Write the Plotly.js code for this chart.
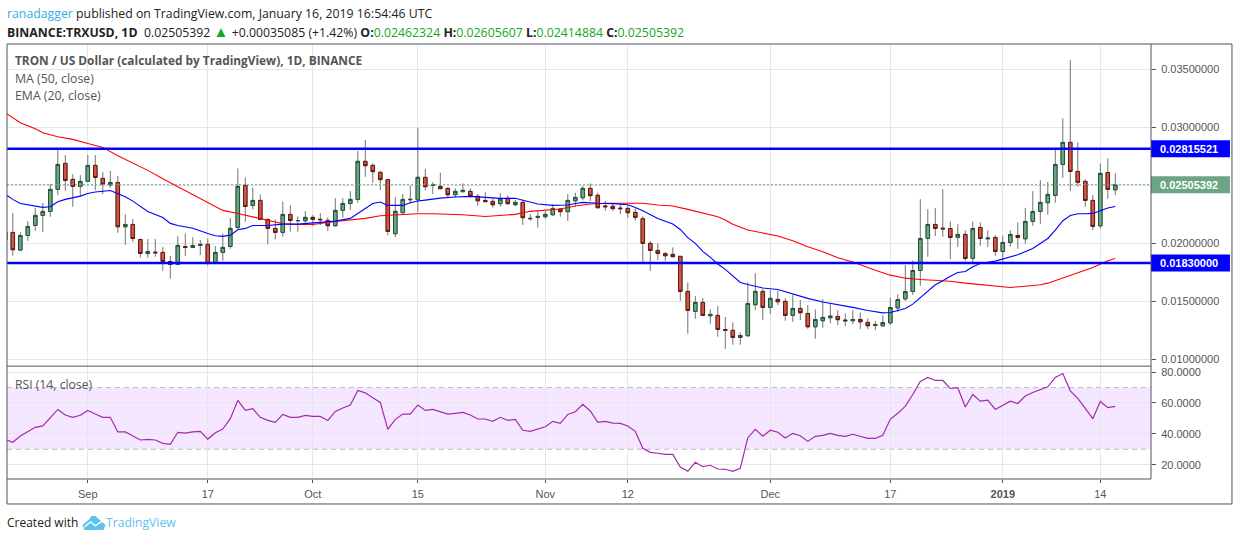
<!DOCTYPE html>
<html>
<head>
<meta charset="utf-8">
<script src="https://cdn.plot.ly/plotly-3.0.1.min.js"></script>
<style>
html, body { margin: 0; padding: 0; background: #fff; }
#chart { width: 1234px; height: 541px; }
</style>
</head>
<body>
<div id="chart"></div>
<script>
// daily TRX/USD candles, Aug 21 2018 to Jan 16 2019
const firstDay = '2018-08-21';

const opens = [
0.02031,0.02094,0.01942,0.02068,0.02154,0.02241,0.02275,0.02465,0.02689,0.02551,0.02491,
0.02534,0.02672,0.02560,0.02505,0.02525,0.02143,0.02163,0.02034,0.01913,0.01924,0.01922,0.01844,0.01818,0.01973,0.01965,0.01982,0.01991,0.01827,0.01922,0.01973,0.02137,0.02499,0.02327,0.02370,0.02206,0.02129,0.02094,0.02249,0.02195,0.02195,
0.02224,0.02207,0.02198,0.02152,0.02284,0.02344,0.02379,0.02707,0.02672,0.02612,0.02549,0.02083,0.02264,0.02376,0.02376,0.02569,0.02500,0.02491,0.02474,0.02419,0.02445,0.02448,0.02405,0.02370,0.02362,0.02342,0.02388,0.02333,0.02353,0.02212,0.02224,
0.02230,0.02247,0.02296,0.02273,0.02367,0.02393,0.02474,0.02414,0.02322,0.02319,0.02304,0.02301,0.02267,0.02212,0.02000,0.01939,0.01911,0.01905,0.01888,0.01586,0.01413,0.01491,0.01376,0.01379,0.01258,0.01250,0.01189,0.01204,0.01471,0.01586,
0.01448,0.01517,0.01500,0.01379,0.01439,0.01396,0.01281,0.01333,0.01359,0.01370,0.01339,0.01333,0.01344,0.01319,0.01292,0.01289,0.01315,0.01444,0.01522,0.01585,0.01766,0.02042,0.02163,0.02131,0.02128,0.02051,0.02077,0.01870,0.02137,0.02039,0.02051,
0.01930,0.02008,0.02068,0.02039,0.02189,0.02275,0.02350,0.02413,0.02680,0.02870,0.02620,0.02534,0.02370,0.02151,0.02611,0.02462];

const highs = [
0.02129,0.02261,0.02097,0.02192,0.02307,0.02347,0.02511,0.02824,0.02761,0.02597,0.02588,
0.02761,0.02761,0.02614,0.02626,0.02580,0.02252,0.02209,0.02034,0.02037,0.02037,0.01968,0.01890,0.02062,0.02085,0.02054,0.02028,0.02042,0.01976,0.02085,0.02218,0.02646,0.02568,0.02482,0.02422,0.02215,0.02206,0.02361,0.02327,0.02232,0.02278,
0.02244,0.02261,0.02224,0.02388,0.02390,0.02451,0.02796,0.02891,0.02689,0.02623,0.02557,0.02399,0.02425,0.02497,0.02994,0.02641,0.02528,0.02609,0.02480,0.02474,0.02517,0.02474,0.02425,0.02442,0.02385,0.02431,0.02413,0.02373,0.02373,0.02253,0.02281,
0.02281,0.02336,0.02301,0.02425,0.02436,0.02494,0.02517,0.02437,0.02365,0.02345,0.02339,0.02327,0.02301,0.02235,0.02020,0.02000,0.01925,0.01965,0.01891,0.01663,0.01546,0.01528,0.01431,0.01459,0.01365,0.01319,0.01232,0.01663,0.01741,0.01606,
0.01597,0.01592,0.01528,0.01554,0.01511,0.01468,0.01431,0.01520,0.01477,0.01425,0.01396,0.01425,0.01405,0.01353,0.01332,0.01381,0.01531,0.01562,0.01812,0.01853,0.02381,0.02295,0.02304,0.02468,0.02189,0.02166,0.02111,0.02189,0.02180,0.02111,0.02071,
0.02068,0.02114,0.02180,0.02304,0.02450,0.02545,0.02528,0.02824,0.03077,0.03580,0.02870,0.02551,0.02416,0.02689,0.02732,0.02605];

const lows = [
0.01999,0.01893,0.01936,0.02022,0.02108,0.02100,0.02229,0.02416,0.02453,0.02315,0.02407,
0.02528,0.02459,0.02425,0.02479,0.02091,0.01988,0.02014,0.01876,0.01876,0.01884,0.01764,0.01695,0.01815,0.01890,0.01965,0.01899,0.01809,0.01821,0.01850,0.01953,0.02120,0.02186,0.02292,0.02200,0.01991,0.02034,0.02057,0.02100,0.02100,0.02155,
0.02149,0.02158,0.02106,0.02143,0.02221,0.02287,0.02350,0.02574,0.02520,0.02459,0.02071,0.02054,0.02258,0.02344,0.02270,0.02454,0.02425,0.02471,0.02396,0.02396,0.02445,0.02393,0.02322,0.02359,0.02307,0.02316,0.02333,0.02322,0.02158,0.02195,0.02135,
0.02212,0.02235,0.02230,0.02192,0.02316,0.02373,0.02365,0.02301,0.02281,0.02281,0.02253,0.02218,0.02195,0.01822,0.01764,0.01856,0.01850,0.01882,0.01505,0.01221,0.01350,0.01373,0.01307,0.01195,0.01092,0.01126,0.01126,0.01195,0.01425,0.01342,
0.01390,0.01468,0.01333,0.01324,0.01339,0.01264,0.01178,0.01273,0.01310,0.01296,0.01287,0.01304,0.01261,0.01261,0.01252,0.01289,0.01298,0.01410,0.01505,0.01554,0.01634,0.01884,0.02062,0.02057,0.01864,0.01970,0.01850,0.01827,0.01979,0.01970,0.01893,
0.01827,0.01970,0.01953,0.01996,0.02151,0.02169,0.02246,0.02350,0.02565,0.02453,0.02488,0.02315,0.02114,0.02128,0.02384,0.02415];

const closes = [
0.02094,0.01945,0.02068,0.02146,0.02241,0.02275,0.02465,0.02680,0.02542,0.02491,0.02534,
0.02672,0.02568,0.02511,0.02525,0.02143,0.02163,0.02042,0.01913,0.01930,0.01919,0.01844,0.01818,0.01982,0.01965,0.01982,0.01991,0.01827,0.01922,0.01965,0.02129,0.02491,0.02318,0.02370,0.02206,0.02129,0.02094,0.02249,0.02197,0.02197,0.02224,
0.02207,0.02204,0.02152,0.02284,0.02344,0.02379,0.02707,0.02669,0.02618,0.02549,0.02103,0.02276,0.02379,0.02379,0.02569,0.02488,0.02503,0.02471,0.02419,0.02448,0.02457,0.02408,0.02367,0.02359,0.02333,0.02382,0.02342,0.02353,0.02221,0.02215,0.02232,
0.02250,0.02301,0.02273,0.02370,0.02396,0.02474,0.02411,0.02307,0.02316,0.02299,0.02299,0.02264,0.02224,0.02000,0.01939,0.01913,0.01893,0.01885,0.01586,0.01422,0.01491,0.01379,0.01388,0.01258,0.01250,0.01189,0.01206,0.01482,0.01586,0.01448,
0.01526,0.01497,0.01379,0.01439,0.01402,0.01281,0.01344,0.01362,0.01373,0.01342,0.01333,0.01344,0.01324,0.01290,0.01301,0.01318,0.01447,0.01516,0.01585,0.01766,0.02042,0.02163,0.02128,0.02125,0.02051,0.02077,0.01870,0.02128,0.02042,0.02045,0.01930,
0.02008,0.02077,0.02051,0.02189,0.02275,0.02353,0.02422,0.02680,0.02870,0.02620,0.02525,0.02370,0.02146,0.02603,0.02465,0.02505];

const rsiValues = [
36.4,34.5,38.6,41.4,44.2,45.1,50.4,55.8,52.2,50.7,52.0,
55.2,52.8,50.7,50.7,41.2,41.2,38.4,36.0,36.4,36.0,33.8,33.2,41.0,40.5,41.2,41.6,36.6,40.7,43.1,49.8,61.7,55.2,56.3,50.7,48.7,47.4,52.6,50.7,50.7,52.0,
51.3,51.3,48.7,54.5,56.7,58.7,68.1,66.6,63.4,60.4,42.9,49.4,52.8,52.8,58.7,55.2,55.8,54.5,52.8,53.3,53.9,52.2,49.6,49.6,48.1,50.7,48.7,49.4,42.3,41.6,42.9,
44.6,48.1,46.8,52.6,54.3,59.1,54.8,47.4,48.1,47.0,46.8,45.1,41.6,30.6,28.0,27.4,26.7,26.7,18.5,15.7,21.5,18.7,19.6,17.2,17.0,15.7,17.7,37.5,42.9,38.4,
42.3,41.0,37.3,40.3,38.8,35.1,38.4,39.0,40.3,39.0,38.4,39.7,38.4,37.1,37.1,39.0,49.4,53.3,58.0,65.5,74.0,76.6,74.6,74.6,69.4,69.9,57.4,65.5,61.2,61.9,55.8,
58.4,61.2,59.7,64.5,66.8,68.8,70.5,76.6,79.1,67.9,63.0,56.5,49.8,61.0,57.0,57.8];

const ma50Dates = ['2018-08-21','2018-08-23','2018-08-25','2018-08-26','2018-08-28','2018-08-30','2018-09-01','2018-09-03','2018-09-05','2018-09-07','2018-09-09','2018-09-11','2018-09-13','2018-09-15','2018-09-17','2018-09-19','2018-09-21','2018-09-23','2018-09-25','2018-09-27','2018-09-29','2018-10-01','2018-10-04','2018-10-06','2018-10-08','2018-10-10','2018-10-13','2018-10-15','2018-10-17','2018-10-19','2018-10-21','2018-10-24','2018-10-26','2018-10-28','2018-10-30','2018-11-01','2018-11-03','2018-11-05','2018-11-07','2018-11-09','2018-11-11','2018-11-14','2018-11-16','2018-11-18','2018-11-20','2018-11-22','2018-11-24','2018-11-25','2018-11-26','2018-11-28','2018-11-30','2018-12-02','2018-12-04','2018-12-06','2018-12-08','2018-12-10','2018-12-12','2018-12-14','2018-12-15','2018-12-17','2018-12-19','2018-12-21','2018-12-23','2018-12-25','2018-12-27','2018-12-29','2018-12-31','2019-01-02','2019-01-04','2019-01-06','2019-01-07','2019-01-09','2019-01-11','2019-01-13','2019-01-15','2019-01-16'];
const ma50Values = [0.03126,0.03040,0.02988,0.02953,0.02919,0.02896,0.02861,0.02827,0.02755,0.02695,0.02629,0.02557,0.02488,0.02419,0.02356,0.02284,0.02258,0.02229,0.02195,0.02169,0.02163,0.02163,0.02189,0.02204,0.02215,0.02238,0.02250,0.02255,0.02255,0.02250,0.02247,0.02232,0.02241,0.02250,0.02276,0.02284,0.02296,0.02322,0.02339,0.02345,0.02345,0.02345,0.02330,0.02322,0.02293,0.02261,0.02230,0.02201,0.02164,0.02115,0.02092,0.02063,0.02023,0.01971,0.01928,0.01876,0.01839,0.01790,0.01769,0.01726,0.01700,0.01689,0.01683,0.01674,0.01657,0.01643,0.01628,0.01620,0.01631,0.01643,0.01657,0.01703,0.01749,0.01792,0.01850,0.01870];

const ema20Dates = ['2018-08-21','2018-08-22','2018-08-23','2018-08-25','2018-08-26','2018-08-27','2018-08-28','2018-08-29','2018-08-30','2018-08-31','2018-09-01','2018-09-02','2018-09-04','2018-09-05','2018-09-06','2018-09-07','2018-09-08','2018-09-09','2018-09-11','2018-09-12','2018-09-13','2018-09-15','2018-09-17','2018-09-18','2018-09-19','2018-09-20','2018-09-21','2018-09-22','2018-09-23','2018-09-25','2018-09-27','2018-09-29','2018-10-02','2018-10-04','2018-10-06','2018-10-07','2018-10-08','2018-10-09','2018-10-10','2018-10-11','2018-10-13','2018-10-14','2018-10-15','2018-10-16','2018-10-18','2018-10-20','2018-10-22','2018-10-24','2018-10-26','2018-10-28','2018-10-29','2018-10-31','2018-11-02','2018-11-04','2018-11-05','2018-11-06','2018-11-07','2018-11-08','2018-11-10','2018-11-12','2018-11-13','2018-11-14','2018-11-16','2018-11-18','2018-11-19','2018-11-20','2018-11-21','2018-11-22','2018-11-23','2018-11-24','2018-11-25','2018-11-26','2018-11-27','2018-11-28','2018-11-29','2018-11-30','2018-12-02','2018-12-04','2018-12-06','2018-12-08','2018-12-10','2018-12-12','2018-12-14','2018-12-15','2018-12-16','2018-12-17','2018-12-19','2018-12-20','2018-12-21','2018-12-22','2018-12-23','2018-12-24','2018-12-25','2018-12-26','2018-12-27','2018-12-28','2018-12-29','2018-12-31','2019-01-02','2019-01-03','2019-01-05','2019-01-07','2019-01-08','2019-01-09','2019-01-10','2019-01-11','2019-01-12','2019-01-13','2019-01-14','2019-01-15','2019-01-16'];
const ema20Values = [0.02422,0.02379,0.02344,0.02321,0.02310,0.02315,0.02358,0.02379,0.02390,0.02407,0.02430,0.02442,0.02456,0.02430,0.02402,0.02364,0.02321,0.02275,0.02223,0.02172,0.02154,0.02131,0.02085,0.02065,0.02060,0.02071,0.02117,0.02129,0.02154,0.02154,0.02166,0.02166,0.02181,0.02192,0.02215,0.02261,0.02301,0.02344,0.02356,0.02327,0.02327,0.02350,0.02365,0.02373,0.02390,0.02399,0.02405,0.02396,0.02388,0.02388,0.02373,0.02339,0.02327,0.02330,0.02344,0.02353,0.02350,0.02345,0.02342,0.02333,0.02310,0.02281,0.02215,0.02166,0.02120,0.02049,0.02000,0.01931,0.01879,0.01822,0.01776,0.01718,0.01663,0.01646,0.01629,0.01615,0.01603,0.01563,0.01526,0.01494,0.01474,0.01448,0.01422,0.01410,0.01401,0.01404,0.01439,0.01476,0.01534,0.01591,0.01643,0.01677,0.01717,0.01749,0.01758,0.01798,0.01827,0.01847,0.01884,0.01901,0.01956,0.02042,0.02114,0.02195,0.02240,0.02255,0.02255,0.02258,0.02281,0.02304,0.02318];

const levels = [0.02815521, 0.01830000];
const lastPrice = 0.02505392;

const priceTicks = [0.01, 0.015, 0.02, 0.025, 0.03, 0.035];
const priceTickLabels = ['0.01000000', '0.01500000', '0.02000000', '', '0.03000000', '0.03500000'];
const rsiTicks = [20, 40, 60, 80];
const rsiBand = [30, 70];
const dateTicks = ['2018-09-01','2018-09-17','2018-10-01','2018-10-15','2018-11-01','2018-11-12','2018-12-01','2018-12-17','2019-01-01','2019-01-14'];
const dateTickLabels = ['Sep','17','Oct','15','Nov','12','Dec','17','<b>2019</b>','14'];

const UP = '#6BA583', DOWN = '#D75442', UP_EDGE = '#225437', DOWN_EDGE = '#5B1A13', WICK = '#737375';
const FRAME = '#50535e', GRID = '#e6e6e6', LABEL = '#555555';
const W = 1234, H = 541, LEFT = 6.5, RIGHT = 1151, TOP = 43.5, BOTTOM = 479, SPLIT = 366;

// page pixels to paper coordinates, for the furniture around the plot
const px = x => (x - LEFT) / (RIGHT - LEFT);
const py = y => (BOTTOM - y) / (BOTTOM - TOP);

const dates = opens.map((_, i) => {
    const d = new Date(firstDay + 'T00:00:00Z');
    d.setUTCDate(d.getUTCDate() + i);
    return d.toISOString().slice(0, 10);
});

const wicks = {
    type: 'candlestick', x: dates, open: opens, high: highs, low: lows, close: closes,
    xaxis: 'x', yaxis: 'y', whiskerwidth: 0, showlegend: false, hoverinfo: 'skip',
    increasing: {line: {color: WICK, width: 1}, fillcolor: 'rgba(0,0,0,0)'},
    decreasing: {line: {color: WICK, width: 1}, fillcolor: 'rgba(0,0,0,0)'}
};

// second pass has no wicks, only the bodies with their dark edge
const bodies = {
    type: 'candlestick', x: dates, open: opens, close: closes,
    high: opens.map((o, i) => Math.max(o, closes[i])),
    low: opens.map((o, i) => Math.min(o, closes[i])),
    xaxis: 'x', yaxis: 'y', whiskerwidth: 0, showlegend: false, hoverinfo: 'skip',
    increasing: {line: {color: UP_EDGE, width: 1}, fillcolor: UP},
    decreasing: {line: {color: DOWN_EDGE, width: 1}, fillcolor: DOWN}
};

const ma50 = {type: 'scatter', mode: 'lines', x: ma50Dates, y: ma50Values, xaxis: 'x', yaxis: 'y',
    line: {color: '#ff0000', width: 1.1}, showlegend: false, hoverinfo: 'skip'};
const ema20 = {type: 'scatter', mode: 'lines', x: ema20Dates, y: ema20Values, xaxis: 'x', yaxis: 'y',
    line: {color: '#0000ff', width: 1.1}, showlegend: false, hoverinfo: 'skip'};
const rsi = {type: 'scatter', mode: 'lines', x: dates, y: rsiValues, xaxis: 'x', yaxis: 'y2',
    line: {color: '#a32ab0', width: 1.2}, showlegend: false, hoverinfo: 'skip'};

const shapes = [];
levels.forEach(v => {
    shapes.push({type: 'line', xref: 'paper', x0: 0, x1: 1, yref: 'y', y0: v, y1: v, layer: 'above',
        line: {color: '#0000ff', width: 2.5}});
});
shapes.push({type: 'line', xref: 'paper', x0: 0, x1: 1, yref: 'y', y0: lastPrice, y1: lastPrice, layer: 'above',
    line: {color: UP, width: 1, dash: '2px 2px'}});
shapes.push({type: 'rect', xref: 'paper', x0: 0, x1: 1, yref: 'y2', y0: rsiBand[0], y1: rsiBand[1], layer: 'below',
    fillcolor: 'rgba(153,21,255,0.1)', line: {width: 0}});
rsiBand.forEach(v => {
    shapes.push({type: 'line', xref: 'paper', x0: 0, x1: 1, yref: 'y2', y0: v, y1: v, layer: 'below',
        line: {color: '#c0b8c4', width: 1, dash: '5px 4px'}});
});

// price tags on the right axis
const tags = [[levels[0], '#0000ff'], [lastPrice, UP], [levels[1], '#0000ff']];
tags.forEach(t => {
    shapes.push({type: 'rect', xref: 'paper', x0: 1, x1: px(1230), yref: 'y', ysizemode: 'pixel', yanchor: t[0],
        y0: -8.5, y1: 8.5, fillcolor: t[1], line: {width: 0}, layer: 'above'});
});

// frame and pane separators
shapes.push({type: 'rect', xref: 'paper', yref: 'paper', x0: 0, x1: px(1232), y0: py(504), y1: py(TOP), layer: 'above',
    line: {color: FRAME, width: 1}});
shapes.push({type: 'line', xref: 'paper', yref: 'paper', x0: 0, x1: 1, y0: py(SPLIT), y1: py(SPLIT), layer: 'above',
    line: {color: FRAME, width: 1}});
shapes.push({type: 'line', xref: 'paper', yref: 'paper', x0: 0, x1: 1, y0: 0, y1: 0, layer: 'above',
    line: {color: FRAME, width: 1}});
shapes.push({type: 'line', xref: 'paper', yref: 'paper', x0: 1, x1: 1, y0: 0, y1: 1, layer: 'above',
    line: {color: FRAME, width: 1}});

// logo next to the footer text
const lx = x => px(x).toFixed(4), ly = y => py(y).toFixed(4);
const logoPath = 'M ' + lx(82) + ' ' + ly(525) + ' L ' + lx(89) + ' ' + ly(519) + ' L ' + lx(91) + ' ' + ly(516)
    + ' L ' + lx(95) + ' ' + ly(516) + ' L ' + lx(105) + ' ' + ly(525) + ' L ' + lx(103) + ' ' + ly(530)
    + ' L ' + lx(84) + ' ' + ly(530) + ' Z';
shapes.push({type: 'path', xref: 'paper', yref: 'paper', path: logoPath, fillcolor: '#5cc3ec', line: {width: 0}, layer: 'above'});
shapes.push({type: 'path', xref: 'paper', yref: 'paper',
    path: 'M ' + lx(84) + ' ' + ly(527) + ' L ' + lx(90) + ' ' + ly(522) + ' L ' + lx(95) + ' ' + ly(526) + ' L ' + lx(102) + ' ' + ly(521),
    line: {color: '#ffffff', width: 1.4}, layer: 'above'});

// annotations carry about 2px of padding, so text goes in 2px left of where it should start
function label(x, y, text, size, color, family) {
    return {xref: 'paper', yref: 'paper', x: px(x - 2), y: py(y), xanchor: 'left', yanchor: 'middle',
        text: text, showarrow: false, align: 'left',
        font: {family: family || '"Open Sans", sans-serif', size: size, color: color}};
}

const GREEN = '#12a81e';
const annotations = [
    label(6, 13, '<span style="color:#38aee6">ranadagger</span> published on TradingView.com, January 16, 2019 16:54:46 UTC', 12.3, '#222222'),
    label(6, 30, '<b>BINANCE:TRXUSD, 1D</b>  0.02505392 <span style="color:' + GREEN + ';font-size:15px">▲</span> +0.00035085 (+1.42%) <b>O:</b><span style="color:' + GREEN + '">0.02462324</span> <b>H:</b><span style="color:' + GREEN + '">0.02605607</span> <b>L:</b><span style="color:' + GREEN + '">0.02414884</span> <b>C:</b><span style="color:' + GREEN + '">0.02505392</span>', 12.3, '#222222'),
    label(15, 60, '<b>TRON / US Dollar (calculated by TradingView), 1D, BINANCE</b>', 11.85, LABEL),
    label(15, 78, 'MA (50, close)', 12.3, LABEL),
    label(15, 95, 'EMA (20, close)', 12.3, LABEL),
    label(15, 384, 'RSI (14, close)', 12.2, LABEL),
    label(6, 523, 'Created with', 12, '#222222'),
    label(106, 523, 'TradingView', 12.2, '#5cc3ec')
];
tags.forEach(t => {
    annotations.push({xref: 'paper', yref: 'y', x: px(1158), y: t[0], xanchor: 'left', yanchor: 'middle',
        text: '<b>' + t[0].toFixed(8) + '</b>', showarrow: false,
        font: {family: '"Liberation Sans", Arial, sans-serif', size: 11, color: '#ffffff'}});
});

const axisFont = {family: '"Liberation Sans", Arial, sans-serif', size: 11, color: LABEL};

const layout = {
    width: W, height: H,
    margin: {l: LEFT, r: W - RIGHT, t: TOP, b: H - BOTTOM, pad: 0},
    paper_bgcolor: '#ffffff', plot_bgcolor: '#ffffff',
    showlegend: false, boxgap: 0.33, boxmode: 'overlay',
    xaxis: {
        type: 'date', anchor: 'y2', range: ['2018-08-21 05:26', '2019-01-20 18:14'],
        rangeslider: {visible: false}, tickmode: 'array', tickvals: dateTicks, ticktext: dateTickLabels,
        ticks: 'outside', ticklen: 3, tickcolor: FRAME, tickfont: axisFont, showgrid: true, gridcolor: GRID,
        gridwidth: 1, zeroline: false, showline: false, ticklabelstandoff: 2
    },
    yaxis: {
        domain: [py(SPLIT), 1], side: 'right', range: [0.00942, 0.03718], tickmode: 'array',
        tickvals: priceTicks, ticktext: priceTickLabels, ticks: 'outside', ticklen: 4, tickcolor: FRAME,
        tickfont: axisFont, showgrid: true, gridcolor: GRID, zeroline: false, showline: false, ticklabelstandoff: 3
    },
    yaxis2: {
        domain: [0, py(SPLIT)], side: 'right', range: [10.7, 83.9], tickmode: 'array',
        tickvals: rsiTicks, ticktext: rsiTicks.map(v => v.toFixed(4)), ticks: 'outside', ticklen: 4, tickcolor: FRAME,
        tickfont: axisFont, showgrid: true, gridcolor: GRID, zeroline: false, showline: false, ticklabelstandoff: 3
    },
    shapes: shapes,
    annotations: annotations
};

Plotly.newPlot('chart', [wicks, bodies, ma50, ema20, rsi], layout, {displayModeBar: false, staticPlot: true});
</script>
</body>
</html>
